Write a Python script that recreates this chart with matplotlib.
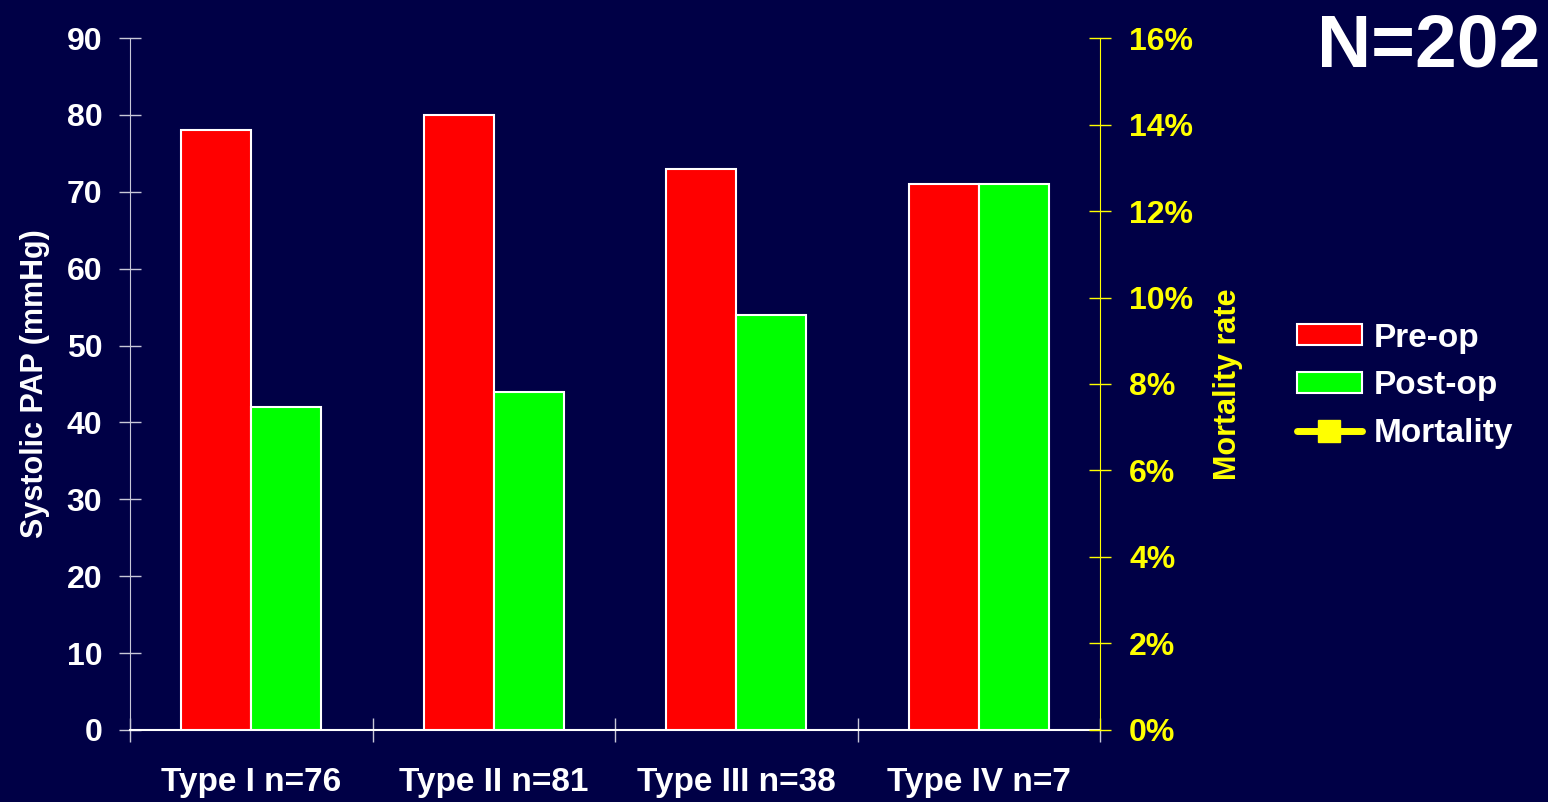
import matplotlib
matplotlib.use("Agg")
import matplotlib.pyplot as plt
import numpy as np
from matplotlib.patches import Patch
from matplotlib.lines import Line2D
from matplotlib.ticker import FuncFormatter

# data
categories = ["Type I n=76", "Type II n=81", "Type III n=38", "Type IV n=7"]
pre_op = [78, 80, 73, 71]
post_op = [42, 44, 54, 71]

bg = "#000046"
plt.rcParams["font.family"] = ["Liberation Sans", "DejaVu Sans"]
plt.rcParams["font.weight"] = "bold"

fig = plt.figure(figsize=(15.48, 8.02), dpi=100, facecolor=bg)
ax = fig.add_axes([0.084, 0.0898, 0.6266, 0.8628], facecolor=bg)

x = np.arange(len(categories))
w = 0.289
ax.bar(x - w / 2, pre_op, w, color="#ff0000", edgecolor="white", linewidth=1.5, zorder=3)
ax.bar(x + w / 2, post_op, w, color="#00ff00", edgecolor="white", linewidth=1.5, zorder=3)

ax.set_xlim(-0.5, len(categories) - 0.5)
ax.set_ylim(0, 90)
ax.set_yticks(range(0, 91, 10))
ax.set_xticks(np.arange(-0.5, len(categories), 1.0))
ax.set_xticklabels([])
ax.set_xticks(x, minor=True)
ax.set_xticklabels(categories, minor=True, fontsize=24, fontweight="bold", color="white",
                   family=["Liberation Sans Narrow", "Liberation Sans"])
ax.tick_params(axis="x", which="minor", length=0, pad=27)
ax.tick_params(axis="x", which="major", direction="inout", length=17, color="#c8c8d8", width=1)
ax.tick_params(axis="y", direction="inout", length=16, color="#c8c8d8", width=1,
               labelsize=23, labelcolor="white", pad=12)
for lab in ax.get_yticklabels():
    lab.set_fontweight("bold")

for s in ["top", "right"]:
    ax.spines[s].set_visible(False)
ax.spines["left"].set_color("#c8c8d8")
ax.spines["bottom"].set_color("white")
ax.spines["bottom"].set_linewidth(1.5)

ax.set_ylabel("Systolic PAP (mmHg)", fontsize=22, fontweight="bold", color="white", labelpad=12)

# mortality axis
ax2 = ax.twinx()
ax2.set_ylim(0, 16)
ax2.set_yticks(range(0, 17, 2))
ax2.yaxis.set_major_formatter(FuncFormatter(lambda v, p: f"{int(v)}%"))
ax2.tick_params(axis="y", direction="inout", length=16, color="#ffff00", width=1,
                labelsize=23, labelcolor="#ffff00", pad=13)
for lab in ax2.get_yticklabels():
    lab.set_fontweight("bold")
for s in ["top", "left", "bottom"]:
    ax2.spines[s].set_visible(False)
ax2.spines["right"].set_color("#ffff00")
ax2.set_ylabel("Mortality rate", fontsize=22, fontweight="bold", color="#ffff00", labelpad=14)

handles = [
    Patch(facecolor="#ff0000", edgecolor="white", linewidth=1.5),
    Patch(facecolor="#00ff00", edgecolor="white", linewidth=1.5),
    Line2D([0], [0], color="#ffff00", lw=5, marker="s", markersize=16, solid_capstyle="round"),
]
leg = fig.legend(handles, ["Pre-op", "Post-op", "Mortality"], loc="center left",
                 bbox_to_anchor=(0.827, 0.519), frameon=False,
                 handlelength=1.95, handleheight=0.6, borderpad=0.0,
                 handletextpad=0.35, labelspacing=0.5, prop={"weight": "bold", "size": 24})
for t in leg.get_texts():
    t.set_color("white")

fig.text(0.995, 0.985, "N=202", ha="right", va="top", fontsize=54, fontweight="bold", color="white")

fig.savefig("out.png", dpi=100, facecolor=bg)
